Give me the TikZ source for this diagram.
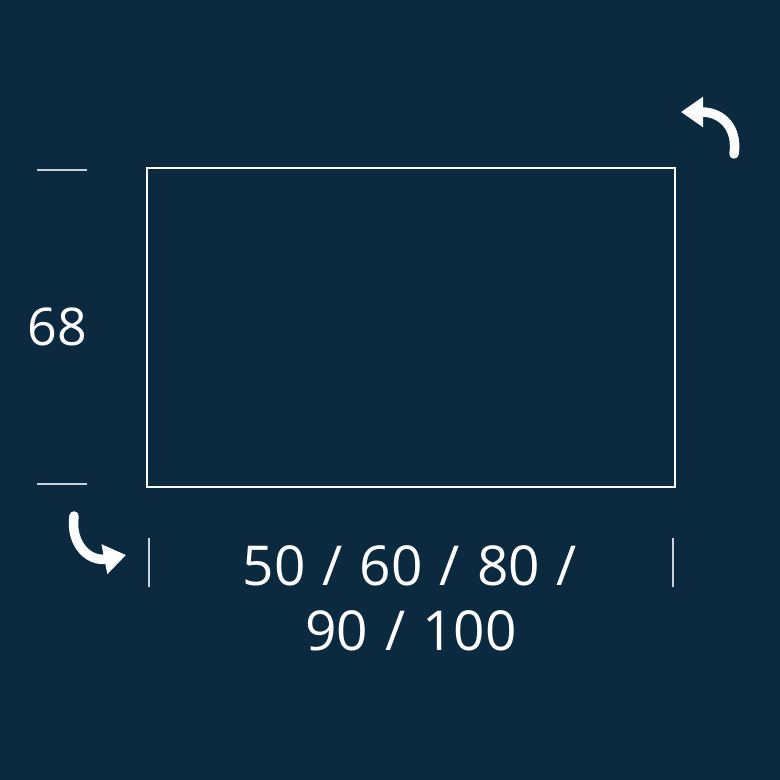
\documentclass[tikz,border=0pt]{standalone}
\usepackage{fontspec}
\setmainfont{Open Sans}
\usetikzlibrary{arrows.meta}
\definecolor{bg}{RGB}{11,41,63}
\definecolor{tickc}{RGB}{200,210,218}
\newcommand{\mywidefont}{\fontsize{55}{64}\selectfont\spaceskip=17pt plus 2pt\relax}
\tikzset{
  panelbox/.style={draw=white, line width=2.8pt, minimum width=528pt, minimum height=319pt, inner sep=0pt},
  tickline/.style={draw=tickc, line width=1.5pt},
  dimtext/.style={text=white, font=\fontsize{52}{64}\selectfont, inner sep=0pt},
  widetext/.style={text=white, font=\mywidefont, inner sep=0pt},
  turnarrow/.style={draw=white, line width=9.5pt, line cap=round, -{Triangle[length=22pt,width=29pt]}}
}
\begin{document}
\begin{tikzpicture}[x=1pt,y=1pt]
\fill[bg] (0,0) rectangle (780,-780);
\useasboundingbox (0,0) rectangle (780,-780);
\node[panelbox] (panel) at (411,-327.5) {};
% left dimension ticks
\coordinate (lt1) at (37,-170);
\coordinate (lt2) at (87,-170);
\coordinate (lb1) at (37,-484);
\coordinate (lb2) at (87,-484);
\draw[tickline] (lt1) -- (lt2);
\draw[tickline] (lb1) -- (lb2);
\node[dimtext, anchor=base] (h) at (57,-345) {68};
% bottom dimension ticks
\coordinate (bl1) at (149,-538);
\coordinate (bl2) at (149,-587);
\coordinate (br1) at (673,-538);
\coordinate (br2) at (673,-587);
\draw[tickline] (bl1) -- (bl2);
\draw[tickline] (br1) -- (br2);
\node[widetext, anchor=base] (w1) at (410,-585) {50 / 60 / 80 /};
\node[widetext, anchor=base] (w2) at (411,-650) {90 / 100};
% rotation arrows
\coordinate (a1s) at (734,-154);
\coordinate (a1e) at (681,-112);
\draw[turnarrow] (a1s) .. controls (738,-128) and (722,-112) .. (a1e);
\coordinate (a2s) at (74,-516);
\coordinate (a2e) at (126,-555);
\draw[turnarrow] (a2s) .. controls (70,-545) and (90,-562) .. (a2e);
\end{tikzpicture}
\end{document}
